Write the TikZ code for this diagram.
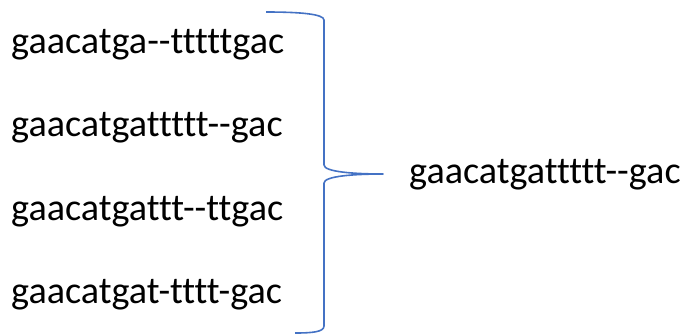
\documentclass[tikz,border=0pt]{standalone}
\usepackage{fontspec}
\setmainfont{Carlito}[Ligatures={TeXOff,CommonOff}]
\definecolor{braceblue}{HTML}{4472C4}
\begin{document}
\begin{tikzpicture}[x=1pt,y=-1pt,
  seq/.style={anchor=base west,inner sep=0pt,font=\fontsize{38.2}{40}\selectfont},
  bracestyle/.style={draw=braceblue,line width=1.6pt,line join=round}]
\useasboundingbox (0,0) rectangle (683,335);
% aligned sequences
\node[seq] (s1) at (11,53) {gaacatga--tttttgac};
\node[seq] (s2) at (11,136.5) {gaacatgattttt--gac};
\node[seq] (s3) at (11,220) {gaacatgattt--ttgac};
\node[seq] (s4) at (11,303) {gaacatgat-tttt-gac};
% consensus
\node[seq] (cons) at (409,183) {gaacatgattttt--gac};
% right brace grouping the four sequences
\coordinate (tip) at (383,174);
\draw[bracestyle] (266,12) .. controls (300,12) and (324,14) .. (324,20)
  -- (324,165) .. controls (324,172) and (355,174) .. (tip)
  .. controls (355,174) and (324,176) .. (324,183)
  -- (324,326) .. controls (324,332) and (312,333) .. (295,333);
\end{tikzpicture}
\end{document}
